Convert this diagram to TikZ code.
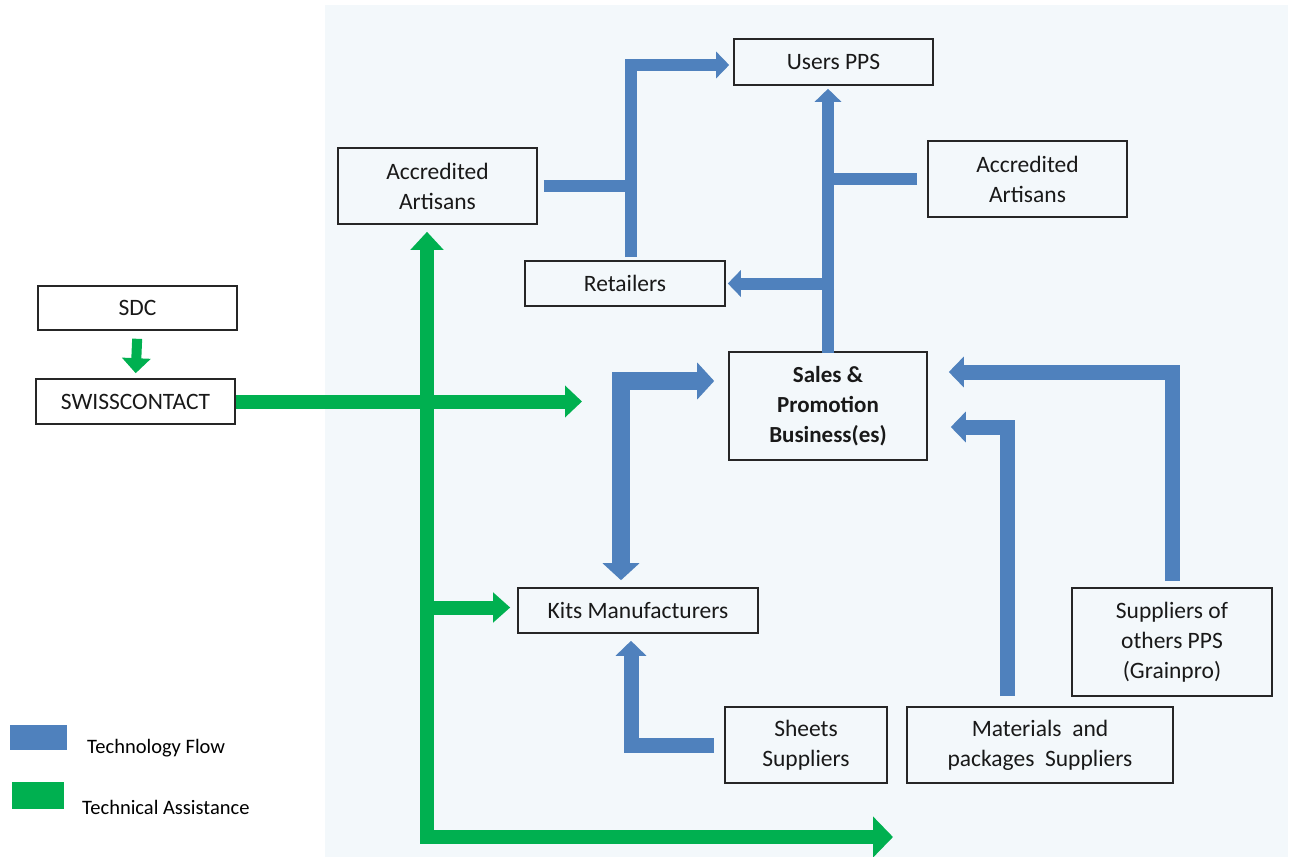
\documentclass[tikz,border=0pt]{standalone}
\usepackage{fontspec}
\setmainfont{Carlito}
\usetikzlibrary{arrows.meta,calc}
\definecolor{tblue}{HTML}{4F81BD}
\definecolor{tgreen}{HTML}{00B050}
\definecolor{panel}{HTML}{F3F8FB}
\begin{document}
\begin{tikzpicture}[x=1pt,y=-1pt,
  box/.style={draw=black!85, line width=1.6pt, inner sep=0pt, align=center,
    font=\fontsize{23.5}{30}\selectfont, text=black!90},
  bl/.style={draw=tblue, line width=#1, line cap=butt, line join=miter},
  gl/.style={draw=tgreen, line width=#1, line cap=butt, line join=miter},
  ba/.style={bl=12pt, -{Triangle[width=26pt,length=13pt]}},
  bam/.style={bl=15pt, -{Triangle[width=30pt,length=15pt]}},
  ga/.style={gl=14pt, -{Triangle[width=31pt,length=17pt]}},
  legtext/.style={anchor=west, inner sep=0pt, font=\fontsize{20.5}{22}\selectfont, text=black}
]
\useasboundingbox (0,0) rectangle (1294,857);
\fill[white] (0,0) rectangle (1294,857);
\fill[panel] (325,5) rectangle (1288,857);

% nodes
\node[box, minimum width=199pt, minimum height=46pt] (users) at (833.5,62) {Users\ PPS};
\node[box, minimum width=199pt, minimum height=76pt] (aa1) at (437.5,186) {Accredited\\Artisans};
\node[box, minimum width=199pt, minimum height=76pt] (aa2) at (1027.5,179) {Accredited\\Artisans};
\node[box, minimum width=200pt, minimum height=45pt] (ret) at (625,283.5) {Retailers};
\node[box, fill=white, minimum width=199pt, minimum height=44pt] (sdc) at (137.5,308) {SDC};
\node[box, fill=white, minimum width=199pt, minimum height=45pt] (swiss) at (135.5,401.5) {SWISSCONTACT};
\node[box, minimum width=198pt, minimum height=108pt, font=\fontsize{23}{30}\selectfont\bfseries] (sales) at (828,406) {Sales \&\\Promotion\\Business(es)};
\node[box, minimum width=240pt, minimum height=45pt] (kits) at (638,610.5) {Kits Manufacturers};
\node[box, minimum width=162pt, minimum height=76pt] (sheets) at (806,745) {Sheets\\Suppliers};
\node[box, minimum width=266pt, minimum height=76pt] (mat) at (1040,745) {Materials\ \ and\\packages\ \ Suppliers};
\node[box, minimum width=200pt, minimum height=108pt] (sup) at (1172,642) {Suppliers of\\others PPS\\(Grainpro)};

% legend
\node[fill=tblue, minimum width=57pt, minimum height=25pt, inner sep=0pt] (legb) at (38.5,737.5) {};
\node[fill=tgreen, minimum width=52pt, minimum height=27pt, inner sep=0pt] (legg) at (38,795) {};
\node[legtext] (legbt) at (87,748) {Technology Flow};
\node[legtext] (leggt) at (82,807) {Technical Assistance};

% blue flows
\coordinate (rv) at ($(ret.north)+(6,0)$);
\draw[ba, shorten <=3pt, shorten >=4pt] (rv) |- ($(users.west)+(0,3)$);
\draw[bl=12pt, shorten <=6pt] (aa1.east) -- (aa1.east -| rv);
\draw[ba, shorten >=3pt, shorten <=-2pt] (sales.north) -- (sales.north |- users.south);
\draw[bl=12pt, shorten <=10pt] (aa2.west) -- (aa2.west -| sales.north);
\draw[ba, shorten >=2pt, shorten <=-6pt] (sales.north |- ret.east) -- (ret.east);

\draw[bl=18pt, {Triangle[width=36pt,length=17pt]}-{Triangle[width=36pt,length=17pt]}]
  ($(kits.north)+(-17,-7)$) |- ($(sales.west)+(-14,-25)$);

\draw[bam, shorten <=10pt, shorten >=7pt] (sheets.west) -| ($(kits.south)+(-7,0)$);
\draw[bam, shorten <=6pt, shorten >=21pt] (sup.north) |- ($(sales.east)+(0,-34)$);
\draw[bam, shorten <=10pt, shorten >=23pt] ($(mat.north)+(-33,0)$) |- ($(sales.east)+(0,21)$);

% green flows
\draw[gl=10pt, -{Triangle[width=28pt,length=15pt]}, shorten <=8pt, shorten >=5pt] (sdc.south) -- (swiss.north);
\coordinate (g1) at (582,401.5);
\draw[ga] (swiss.east) -- (g1);
\coordinate (gcorner) at (427,837);
\coordinate (gend) at (893,837);
\draw[gl=14pt, {Triangle[width=32pt,length=18pt]}-{Triangle[width=40pt,length=20pt]}]
  ($(aa1.south)+(-10.5,7)$) -- (gcorner) -- (gend);
\draw[gl=14pt, -{Triangle[width=29pt,length=17pt]}, shorten >=7pt] ($(gcorner |- kits.west)+(0,-3)$) -- ($(kits.west)+(0,-3)$);
\end{tikzpicture}
\end{document}
